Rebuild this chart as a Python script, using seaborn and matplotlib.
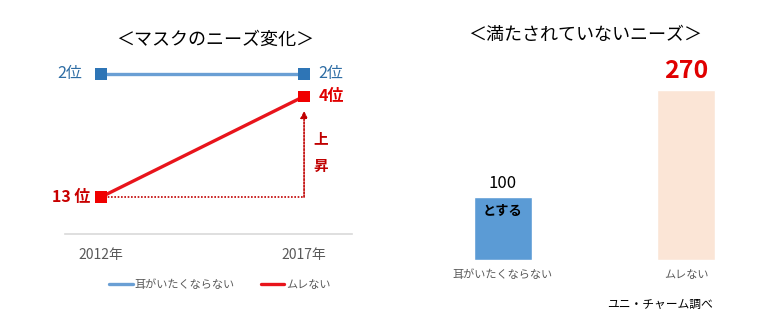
import matplotlib
matplotlib.use("Agg")
import matplotlib.pyplot as plt
import seaborn as sns
import pandas as pd
from matplotlib.lines import Line2D

sns.set_style("white")
plt.rcParams['font.family'] = ['Noto Sans CJK JP', 'DejaVu Sans']

# ---- data ----
years = ["2012年", "2017年"]
needs = ["耳がいたくならない", "ムレない"]
rank_ear = [2, 2]
rank_mure = [13, 4]
bar_values = [100, 270]
left_title = "＜マスクのニーズ変化＞"
right_title = "＜満たされていないニーズ＞"
source = "ユニ・チャーム調べ"

line_colors = ["#6A9FD4", "#E8141B"]
marker_colors = ["#2E75B6", "#F00000"]
label_colors = ["#2E6DA4", "#E00000"]
bar_colors = ["#5B9BD5", "#FBE5D6"]

W, H = 778, 335
fig = plt.figure(figsize=(W / 100, H / 100), dpi=100)

def px_axes(x0, y0, x1, y1):
    return fig.add_axes([x0 / W, 1 - y1 / H, (x1 - x0) / W, (y1 - y0) / H])

# ---- left: slope chart ----
ax1 = px_axes(65, 52, 352, 234)
pos = list(range(len(years)))
df = pd.DataFrame({
    "pos": pos * 2,
    "rank": rank_ear + rank_mure,
    "need": [needs[0]] * 2 + [needs[1]] * 2,
})
sns.lineplot(data=df, x="pos", y="rank", hue="need", palette=line_colors,
             linewidth=2.4, legend=False, ax=ax1)
sns.scatterplot(data=df, x="pos", y="rank", hue="need", palette=marker_colors,
                marker="s", s=70, edgecolor="none", legend=False, ax=ax1, zorder=5)

ax1.set_xlim(-0.177, 1.236)
ax1.set_ylim(16.3, 0.04)
ax1.set_xticks(pos)
ax1.set_xticklabels(years, fontsize=10, color="#595959")
ax1.tick_params(axis="x", length=0, pad=10)
ax1.set_yticks([])
ax1.set_xlabel("")
ax1.set_ylabel("")
for s in ["top", "left", "right"]:
    ax1.spines[s].set_visible(False)
ax1.spines["bottom"].set_color("#D9D9D9")
ax1.spines["bottom"].set_linewidth(1.2)

# rank labels
ax1.text(pos[0] - 0.09, rank_ear[0], f"{rank_ear[0]}位", color=label_colors[0],
         fontsize=11.5, ha="right", va="center")
ax1.text(pos[1] + 0.07, rank_ear[1], f"{rank_ear[1]}位", color=label_colors[0],
         fontsize=11.5, ha="left", va="center")
ax1.text(pos[1] + 0.07, rank_mure[1], f"{rank_mure[1]}位", color=label_colors[1],
         fontsize=11.5, ha="left", va="center", fontweight="bold")
ax1.text(pos[0] - 0.05, rank_mure[0], f"{rank_mure[0]} 位", color="#C80000",
         fontsize=11.5, ha="right", va="center", fontweight="bold")

# dotted rise arrow
ax1.plot([pos[0], pos[1]], [rank_mure[0], rank_mure[0]], color="#C00000",
         linestyle=(0, (1, 1)), linewidth=1.2, zorder=2)
ax1.annotate("", xy=(pos[1], rank_mure[1] + 1.3), xytext=(pos[1], rank_mure[0]),
             arrowprops=dict(arrowstyle="-|>", color="#C00000", linestyle=(0, (1, 1)),
                             linewidth=1.2, mutation_scale=10, shrinkA=0, shrinkB=0))
ax1.text(pos[1] + 0.045, rank_mure[1] + 3.7, "上", color="#C00000", fontsize=10.5,
         ha="left", va="center", fontweight="bold")
ax1.text(pos[1] + 0.045, rank_mure[1] + 6.2, "昇", color="#C00000", fontsize=10.5,
         ha="left", va="center", fontweight="bold")

handles = [Line2D([], [], color=line_colors[0], linewidth=2.4),
           Line2D([], [], color=line_colors[1], linewidth=2.4)]
leg = fig.legend(handles, needs, loc="center", bbox_to_anchor=(220 / W, 1 - 285 / H),
                 ncol=2, frameon=False, fontsize=8, handlelength=2.1,
                 handletextpad=0.15, columnspacing=2.4)
for t in leg.get_texts():
    t.set_color("#595959")

fig.text(215 / W, 1 - 40 / H, left_title, fontsize=13, ha="center", va="center",
         color="black")

# ---- right: bar chart ----
ax2 = px_axes(440, 40, 750, 260)
sns.barplot(x=needs, y=bar_values, hue=needs, palette=bar_colors, width=0.317,
            legend=False, ax=ax2, saturation=1)
ax2.set_xlim(-0.344, 1.35)
ax2.set_ylim(0, 349)
ax2.set_yticks([])
ax2.tick_params(axis="x", length=0, pad=7, labelsize=8, labelcolor="#595959")
for s in ["top", "left", "right", "bottom"]:
    ax2.spines[s].set_visible(False)

ax2.text(0, bar_values[0] + 8, str(bar_values[0]), ha="center", va="bottom",
         fontsize=12, color="black")
ax2.text(0, bar_values[0] - 22, "とする", ha="center", va="center",
         fontsize=9.5, color="black", fontweight="bold")
ax2.text(1, bar_values[1] + 10, str(bar_values[1]), ha="center", va="bottom",
         fontsize=18, color="#E00000", fontweight="bold")

fig.text(585 / W, 1 - 35 / H, right_title, fontsize=13, ha="center", va="center",
         color="black")
fig.text(660 / W, 1 - 304 / H, source, fontsize=8.5, ha="center", va="center",
         color="black")

fig.savefig("out.png", dpi=100)
